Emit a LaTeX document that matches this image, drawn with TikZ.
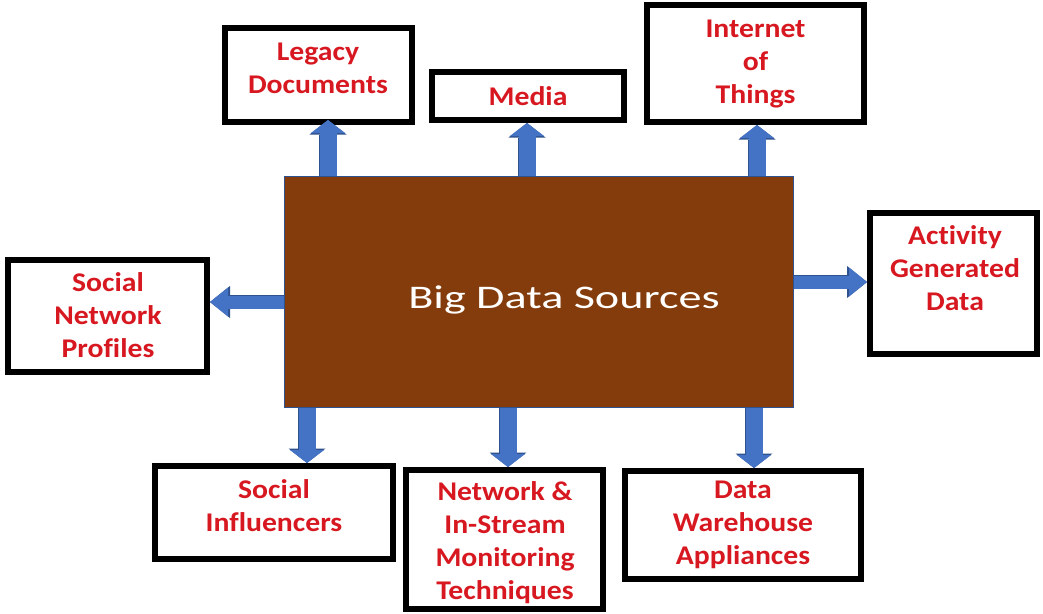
\documentclass[tikz,border=0pt]{standalone}
\usepackage{fontspec}
\setmainfont{Carlito}
\newfontfamily\titlefont[FakeStretch=1.4]{Carlito}
\newfontfamily\labelfont[FakeStretch=1.1,Ligatures=NoCommon]{Carlito}
\usetikzlibrary{arrows.meta}
\definecolor{hubbrown}{HTML}{843C0C}
\definecolor{arrowblue}{HTML}{4472C4}
\definecolor{arrowedge}{HTML}{2F528F}
\definecolor{labelred}{RGB}{215,24,32}

\begin{document}
\begin{tikzpicture}[x=1pt,y=-1pt,
  sourcebox/.style={draw=black, line width=6pt, fill=white, inner sep=0pt},
  sourcetext/.style={text=labelred, font=\labelfont\bfseries\fontsize{27}{33}\selectfont,
    align=center, inner sep=0pt},
  vertarrow/.style={line width=17pt, draw=arrowblue,
    -{Triangle[width=34pt,length=13pt,line width=0pt]},
    preaction={draw=arrowedge, line width=18.6pt,
      -{Triangle[width=37pt,length=14.5pt,line width=0pt]}}},
  horizarrow/.style={line width=13pt, draw=arrowblue,
    -{Triangle[width=29pt,length=18pt,line width=0pt]},
    preaction={draw=arrowedge, line width=14.6pt,
      -{Triangle[width=32pt,length=20pt,line width=0pt]}}},
]
% canvas
\fill[white] (0,0) rectangle (1043,613);
\path[use as bounding box] (0,0) rectangle (1043,613);

% central block
\node[draw=arrowedge, line width=1pt, fill=hubbrown, minimum width=509pt,
  minimum height=231pt, inner sep=0pt] (hub) at (538.5,291.5) {};
\node[text=white, font=\titlefont\fontsize{33}{40}\selectfont, anchor=base,
  inner sep=0pt] (title) at (564,308) {Big Data Sources};

% source boxes
\node[sourcebox, minimum width=187pt, minimum height=94pt]  (legacy)   at (318.5,75)   {};
\node[sourcebox, minimum width=192pt, minimum height=48pt]  (media)    at (528,96)     {};
\node[sourcebox, minimum width=217pt, minimum height=117pt] (iot)      at (755.5,63.5) {};
\node[sourcebox, minimum width=167pt, minimum height=141pt] (activity) at (953.5,283.5){};
\node[sourcebox, minimum width=199pt, minimum height=112pt] (social)   at (107.5,316)  {};
\node[sourcebox, minimum width=238pt, minimum height=93pt]  (influence) at (274,512.5) {};
\node[sourcebox, minimum width=197pt, minimum height=139pt] (stream)   at (504.5,539.5){};
\node[sourcebox, minimum width=236pt, minimum height=108pt] (warehouse) at (743,525)   {};

% box labels
\node[sourcetext] (legacy-t)    at (318,68)    {Legacy\\Documents};
\node[sourcetext] (media-t)     at (528,96)    {Media};
\node[sourcetext] (iot-t)       at (755.5,64)  {Internet\\of\\Things};
\node[sourcetext] (activity-t)  at (955,268.5) {Activity\\Generated\\Data};
\node[sourcetext] (social-t)    at (108,315.5) {Social\\Network\\Profiles};
\node[sourcetext] (influence-t) at (274,505.5) {Social\\Influencers};
\node[sourcetext] (stream-t)    at (505,543)   {Network \&\\In-Stream\\Monitoring\\Techniques};
\node[sourcetext] (warehouse-t) at (743,525)   {Data\\Warehouse\\Appliances};

% block arrows from the central block
\draw[vertarrow] ([xshift=9.5pt]legacy.south |- hub.north) -- ([xshift=9.5pt,yshift=5pt]legacy.south);
\draw[vertarrow] ([xshift=-1pt]media.south |- hub.north) -- ([xshift=-1pt]media.south);
\draw[vertarrow] ([xshift=1.5pt]iot.south |- hub.north) -- ([xshift=1.5pt]iot.south);
\draw[horizarrow] ([yshift=1.5pt]activity.west -| hub.east) -- ([yshift=1.5pt]activity.west);
\draw[horizarrow] ([yshift=14pt]social.east -| hub.west) -- ([yshift=14pt]social.east);
\draw[vertarrow] ([xshift=33pt]influence.north |- hub.south) -- ([xshift=33pt]influence.north);
\draw[vertarrow] ([xshift=3.5pt]stream.north |- hub.south) -- ([xshift=3.5pt]stream.north);
\draw[vertarrow] ([xshift=11pt]warehouse.north |- hub.south) -- ([xshift=11pt]warehouse.north);
\end{tikzpicture}
\end{document}
